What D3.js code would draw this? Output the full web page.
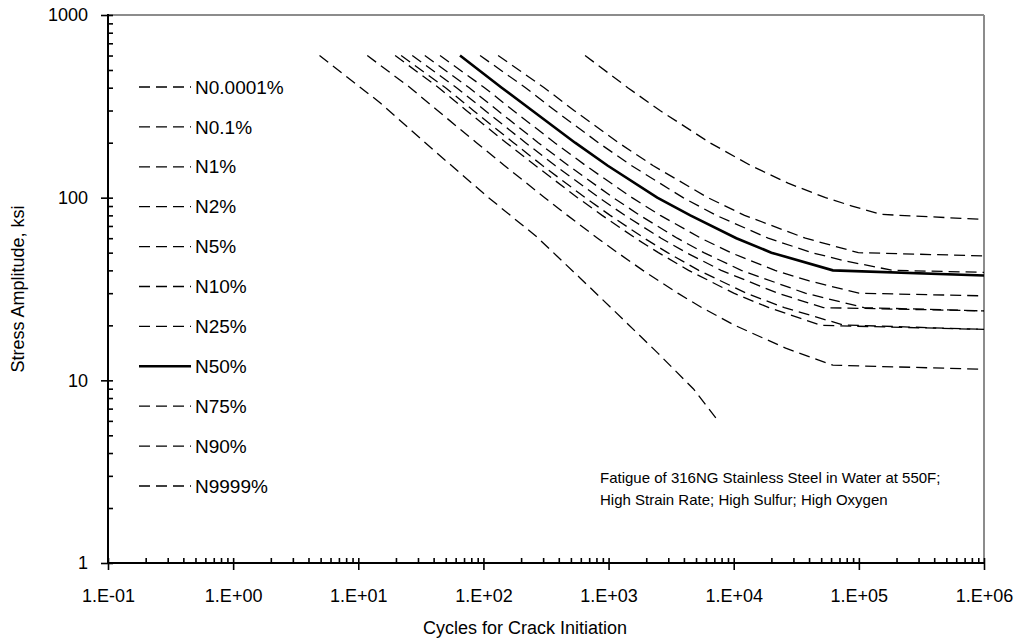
<!DOCTYPE html>
<html><head><meta charset="utf-8">
<script src="https://cdn.jsdelivr.net/npm/d3@7"></script>
<style>
body{margin:0;background:#fff}
text{font-family:"Liberation Sans",Arial,sans-serif;fill:#000}
</style>
</head><body>
<svg id="c" width="1023" height="642"></svg>
<script>
// ---- data (cycles N, stress amplitude ksi) ----
const seriesNames = ["N0.0001%","N0.1%","N1%","N2%","N5%","N10%","N25%","N50%","N75%","N90%","N9999%"];
const n0_0001 = [[4.9,600],[15,330],[40,182],[110,100],[267,61],[600,36],[1090,24.3],[2500,14],[4750,9],[7500,6]];
const n0_1 = [[11.8,600],[26,400],[43,300],[88,200],[147,150],[309,100],[469,80],[817,60],[1180,50],[1880,40],[3570,30],[5570,25],[10200,20],[26000,15],[62000,12.1],[1e6,11.5]];
const n1 = [[19.7,600],[43.9,400],[73,300],[152,200],[260,150],[565,100],[888,80],[1640,60],[2500,50],[4360,40],[10000,30],[19100,25],[50000,20],[1e6,19]];
const n2 = [[22,600],[49.8,400],[83,300],[174,200],[296,150],[651,100],[1030,80],[1930,60],[2960,50],[5260,40],[12600,30],[25400,25],[75000,20.1],[1e6,19]];
const n5 = [[27,600],[61,400],[103,300],[217,200],[374,150],[840,100],[1350,80],[2630,60],[4180,50],[7940,40],[22500,30],[52000,25],[1e6,24]];
const n10 = [[34,600],[77,400],[130,300],[274,200],[477,150],[1090,100],[1780,80],[3540,60],[5770,50],[11500,40],[37300,30],[110000,25],[1e6,24]];
const n25 = [[45,600],[102,400],[173,300],[371,200],[655,150],[1540,100],[2590,80],[5470,60],[9470,50],[21400,40],[40200,35],[100000,30],[1e6,29]];
const n50 = [[65,600],[140,400],[245,300],[540,200],[980,150],[2450,100],[4500,80],[10500,60],[20000,50],[62000,40],[1e6,37.5]];
const n75 = [[94,600],[217,400],[373,300],[829,200],[1520,150],[3940,100],[7250,80],[18850,60],[42200,50],[77900,45],[187000,40],[1e6,39]];
const n90 = [[131,600],[306,400],[530,300],[1200,200],[2260,150],[6220,100],[12200,80],[37400,60],[99000,50],[1e6,48]];
const n9999 = [[649,600],[1424,400],[2575,300],[6436,200],[13640,150],[27180,120],[54130,100],[88300,90],[150000,81],[1e6,76]];
const seriesData = [n0_0001,n0_1,n1,n2,n5,n10,n25,n50,n75,n90,n9999];
const solidSeries = "N50%";

const xTickValues = [0.1,1,10,100,1e3,1e4,1e5,1e6];
const xTickLabels = ["1.E-01","1.E+00","1.E+01","1.E+02","1.E+03","1.E+04","1.E+05","1.E+06"];
const yTickValues = [1,10,100,1000];
const yTickLabels = ["1","10","100","1000"];
const xTitle = "Cycles for Crack Initiation";
const yTitle = "Stress Amplitude, ksi";
const noteLines = ["Fatigue of 316NG Stainless Steel in Water at 550F;","High Strain Rate; High Sulfur; High Oxygen"];

// ---- layout ----
const L=108, R=984, T=15, B=563;
const svg = d3.select("#c");
const x = d3.scaleLog().domain([0.1,1e6]).range([L,R]);
const y = d3.scaleLog().domain([1,1000]).range([B,T]);

function minorTicks(lo, hi){
  const out=[];
  for(let e=Math.log10(lo); e<Math.log10(hi); e++){
    for(let k=1;k<10;k++) out.push(k*Math.pow(10,e));
  }
  out.push(hi);
  return out;
}
const xAll = minorTicks(0.1,1e6);
const yAll = minorTicks(1,1000);

// plot frame (top/right grey)
svg.append("line").attr("x1",L).attr("x2",R).attr("y1",T).attr("y2",T).attr("stroke","#8c8c8c").attr("stroke-width",2);
svg.append("line").attr("x1",R).attr("x2",R).attr("y1",T).attr("y2",B).attr("stroke","#8c8c8c").attr("stroke-width",2);

// x axis
const fs = 18;
const gxIn = svg.append("g").attr("transform",`translate(0,${B})`)
  .call(d3.axisTop(x).tickValues(xAll).tickSize(5).tickSizeOuter(0).tickFormat(""));
const gxOut = svg.append("g").attr("transform",`translate(0,${B})`)
  .call(d3.axisBottom(x).tickValues(xTickValues).tickSize(7).tickSizeOuter(0).tickPadding(19)
    .tickFormat((d,i)=>xTickLabels[i]));
// y axis
const gyIn = svg.append("g").attr("transform",`translate(${L},0)`)
  .call(d3.axisRight(y).tickValues(yAll).tickSize(5).tickSizeOuter(0).tickFormat(""));
const gyOut = svg.append("g").attr("transform",`translate(${L},0)`)
  .call(d3.axisLeft(y).tickValues(yTickValues).tickSize(7).tickSizeOuter(0).tickPadding(13)
    .tickFormat((d,i)=>yTickLabels[i]));
[gxIn,gxOut,gyIn,gyOut].forEach(g=>{
  g.select(".domain").remove();
  g.selectAll(".tick line").attr("stroke","#000").attr("stroke-width",1.6);
  g.selectAll(".tick text").attr("font-size",fs).attr("font-family","Liberation Sans, Arial, sans-serif").attr("fill","#000");
});
svg.append("line").attr("x1",L).attr("x2",R+1).attr("y1",B).attr("y2",B).attr("stroke","#000").attr("stroke-width",2);
svg.append("line").attr("x1",L).attr("x2",L).attr("y1",T-1).attr("y2",B+1).attr("stroke","#000").attr("stroke-width",2);

// curves
const line = d3.line().x(d=>x(d[0])).y(d=>y(d[1]));
seriesData.forEach((s,i)=>{
  const solid = seriesNames[i]===solidSeries;
  svg.append("path").datum(s).attr("d",line).attr("fill","none")
    .attr("stroke","#000").attr("stroke-width",solid?2.6:1.3)
    .attr("stroke-dasharray",solid?null:"11,6");
});

// legend
const lg = svg.append("g");
seriesNames.forEach((n,i)=>{
  const yy = 87 + i*39.9;
  const solid = n===solidSeries;
  lg.append("line").attr("x1",139).attr("x2",191).attr("y1",yy).attr("y2",yy)
    .attr("stroke","#000").attr("stroke-width",solid?2.6:1.3).attr("stroke-dasharray",solid?null:"11,6");
  lg.append("text").attr("x",195).attr("y",yy).attr("dy","0.35em").attr("font-size",19).text(n);
});

// titles
svg.append("text").attr("x",525).attr("y",634).attr("text-anchor","middle").attr("font-size",fs).text(xTitle);
svg.append("text").attr("transform","translate(24,289) rotate(-90)").attr("text-anchor","middle").attr("font-size",fs).text(yTitle);

// note
noteLines.forEach((t,i)=>{
  svg.append("text").attr("x",600).attr("y",483+i*22).attr("font-size",15).text(t);
});
</script>
</body></html>
